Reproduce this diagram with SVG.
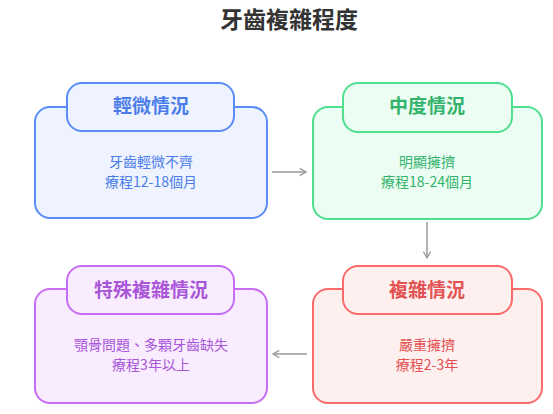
<svg xmlns="http://www.w3.org/2000/svg" width="553" height="414" viewBox="0 0 553 414">
<defs>
<style>
text{font-family:"Noto Sans CJK TC","Noto Sans CJK SC",sans-serif;text-anchor:middle}
.title{font-size:23px;font-weight:bold;fill:#333}
.hd{font-size:19px;font-weight:bold}
.bd{font-size:14px}
.b rect{fill:#eef3ff;stroke:#5c8df6;stroke-width:2}
.b text{fill:#4a7de8}
.g rect{fill:#ecfdf3;stroke:#4fe08f;stroke-width:2}
.g text{fill:#33b36c}
.p rect{fill:#f8ecfe;stroke:#c76df3;stroke-width:2}
.p text{fill:#a956d9}
.r rect{fill:#fff0f0;stroke:#fb6b6b;stroke-width:2}
.r text{fill:#e25252}
.conn path{fill:none;stroke:#999;stroke-width:1.5}
</style>
<marker id="ah" viewBox="0 0 10 10" refX="8" refY="5" markerWidth="9" markerHeight="9" orient="auto" markerUnits="userSpaceOnUse">
<path d="M1,1 L8,5 L1,9" fill="none" stroke="#999" stroke-width="1.5"/>
</marker>
</defs>
<rect width="553" height="414" fill="#fff"/>
<text class="title" x="289" y="28">牙齒複雜程度</text>
<g class="conn">
<path d="M272,172 H306" marker-end="url(#ah)"/>
<path d="M427,222 V258" marker-end="url(#ah)"/>
<path d="M307,354 H273" marker-end="url(#ah)"/>
</g>
<g id="mild" class="b">
<rect x="35" y="107" width="232" height="111" rx="15"/>
<rect x="67" y="83" width="167" height="48" rx="15"/>
<text class="hd" x="151" y="113">輕微情況</text>
<text class="bd" x="151" y="167">牙齒輕微不齊</text>
<text class="bd" x="151" y="187">療程12-18個月</text>
</g>
<g id="moderate" class="g">
<rect x="313" y="107" width="229" height="112" rx="15"/>
<rect x="343" y="83" width="169" height="49" rx="15"/>
<text class="hd" x="427" y="113">中度情況</text>
<text class="bd" x="427" y="167">明顯擁擠</text>
<text class="bd" x="427" y="187">療程18-24個月</text>
</g>
<g id="special" class="p">
<rect x="35" y="289" width="232" height="114" rx="15"/>
<rect x="67" y="266" width="167" height="48" rx="15"/>
<text class="hd" x="151" y="297">特殊複雜情況</text>
<text class="bd" x="151" y="350">顎骨問題、多顆牙齒缺失</text>
<text class="bd" x="151" y="370">療程3年以上</text>
</g>
<g id="complex" class="r">
<rect x="313" y="289" width="229" height="114" rx="15"/>
<rect x="343" y="266" width="169" height="48" rx="15"/>
<text class="hd" x="427" y="297">複雜情況</text>
<text class="bd" x="427" y="350">嚴重擁擠</text>
<text class="bd" x="427" y="370">療程2-3年</text>
</g>
</svg>
